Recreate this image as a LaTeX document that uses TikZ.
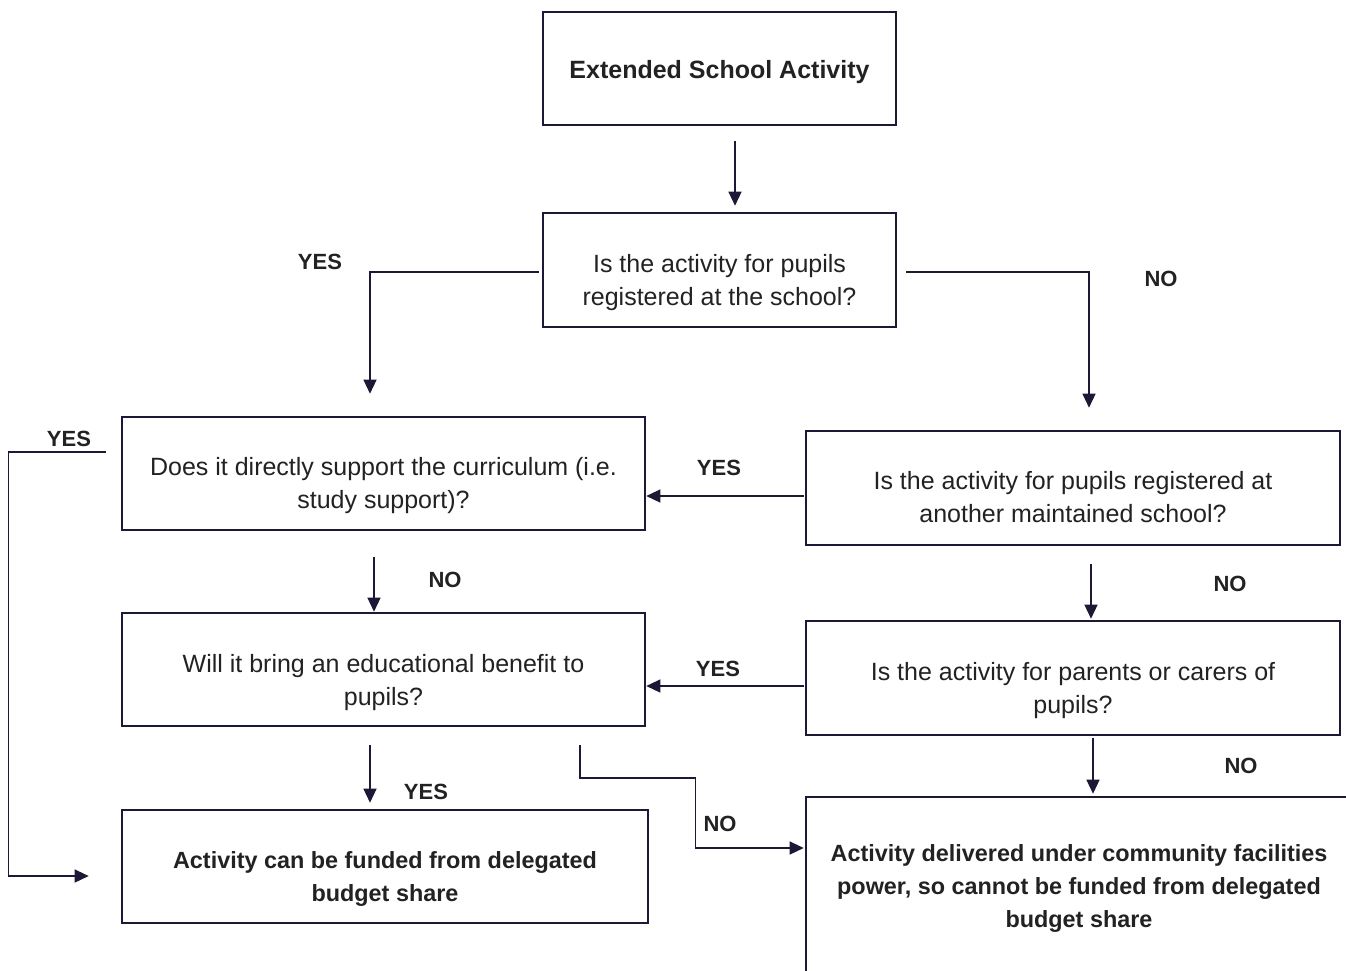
\documentclass[tikz,border=0pt]{standalone}
\usepackage{fontspec}
\setmainfont{Liberation Sans}
\usetikzlibrary{arrows.meta,calc}
\definecolor{navy}{HTML}{1C1836}
\definecolor{txt}{HTML}{222222}
\newcommand\mydown[2]{\raisebox{-#1pt}[\height][\depth]{\begin{tabular}{@{}c@{}}#2\end{tabular}}}
\begin{document}
\begin{tikzpicture}[x=1pt,y=-1pt,
  box/.style={draw=navy,line width=2.6pt,text=txt,inner sep=0pt,
    font=\fontsize{25}{33}\selectfont},
  bbox/.style={box,font=\fontsize{25}{33}\selectfont\bfseries},
  sbox/.style={box,font=\fontsize{23.4}{33}\selectfont\bfseries},
  lab/.style={text=txt,font=\fontsize{22}{26}\selectfont\bfseries,inner sep=0pt},
  arr/.style={draw=navy,line width=1.3pt,-{Triangle[length=14pt,width=13pt]}}]
\clip (0,0) rectangle (1346,970);
\fill[white] (0,0) rectangle (1346,970);
\node[bbox,minimum width=353,minimum height=113] (A) at (719.5,68.5) {\mydown{3}{Extended School Activity}};
\node[box,minimum width=353,minimum height=114] (B) at (719.5,270) {\mydown{12}{Is the activity for pupils\\registered at the school?}};
\node[box,minimum width=523,minimum height=113] (C) at (383.5,473.5) {\mydown{11.5}{Does it directly support the curriculum (i.e.\\study support)?}};
\node[box,minimum width=534,minimum height=114] (D) at (1073,488) {\mydown{11}{Is the activity for pupils registered at\\another maintained school?}};
\node[box,minimum width=523,minimum height=113] (E) at (383.5,669.5) {\mydown{12.5}{Will it bring an educational benefit to\\pupils?}};
\node[box,minimum width=534,minimum height=114] (F) at (1073,678) {\mydown{12}{Is the activity for parents or carers of\\pupils?}};
\node[sbox,minimum width=526,minimum height=113] (G) at (385,866.5) {\mydown{11.5}{Activity can be funded from delegated\\budget share}};
\node[sbox,minimum width=546,minimum height=190] (H) at (1079,892) {\mydown{-4.6}{Activity delivered under community facilities\\power, so cannot be funded from delegated\\budget share}};
% connectors
\draw[arr] ($(A.south)+(15.5,15)$) -- ($(B.north)+(15.5,-6)$);
\draw[arr] ($(B.west)+(-3,2)$) -| ($(C.north)+(-13.5,-22)$);
\draw[arr] ($(B.east)+(9,2)$) -| ($(D.north)+(16,-22)$);
\draw[arr] ($(D.west)+(-1,8)$) -- ($(C.east)+(0,22.5)$);
\draw[arr] ($(C.west)+(-15,-21.5)$) -- ++(-97,0) |- ($(G.west)+(-32,9.5)$);
\draw[arr] ($(C.south)+(-9.5,26)$) -- ($(E.north)+(-9.5,0)$);
\draw[arr] ($(D.south)+(18,18)$) -- ($(F.north)+(18,-1)$);
\draw[arr] ($(F.west)+(-1,8)$) -- ($(E.east)+(0,16.5)$);
\draw[arr] ($(E.south)+(-13.5,18)$) -- ($(G.north)+(-15,-6)$);
\draw[arr] ($(E.south)+(196.5,18)$) |- ($(H.west)+(-109,-114)$) |- ($(H.west)+(-1,-44)$);
\draw[arr] ($(F.south)+(20,2)$) -- ($(H.north)+(14,-2)$);
% labels
\node[lab] (l1) at (320,262) {YES};
\node[lab] (l2) at (1161,279) {NO};
\node[lab] (l3) at (69,439) {YES};
\node[lab] (l4) at (719,468) {YES};
\node[lab] (l5) at (445,580) {NO};
\node[lab] (l6) at (1230,584) {NO};
\node[lab] (l7) at (718,669) {YES};
\node[lab] (l8) at (426,792) {YES};
\node[lab] (l9) at (720,824) {NO};
\node[lab] (l10) at (1241,766) {NO};
\end{tikzpicture}
\end{document}
